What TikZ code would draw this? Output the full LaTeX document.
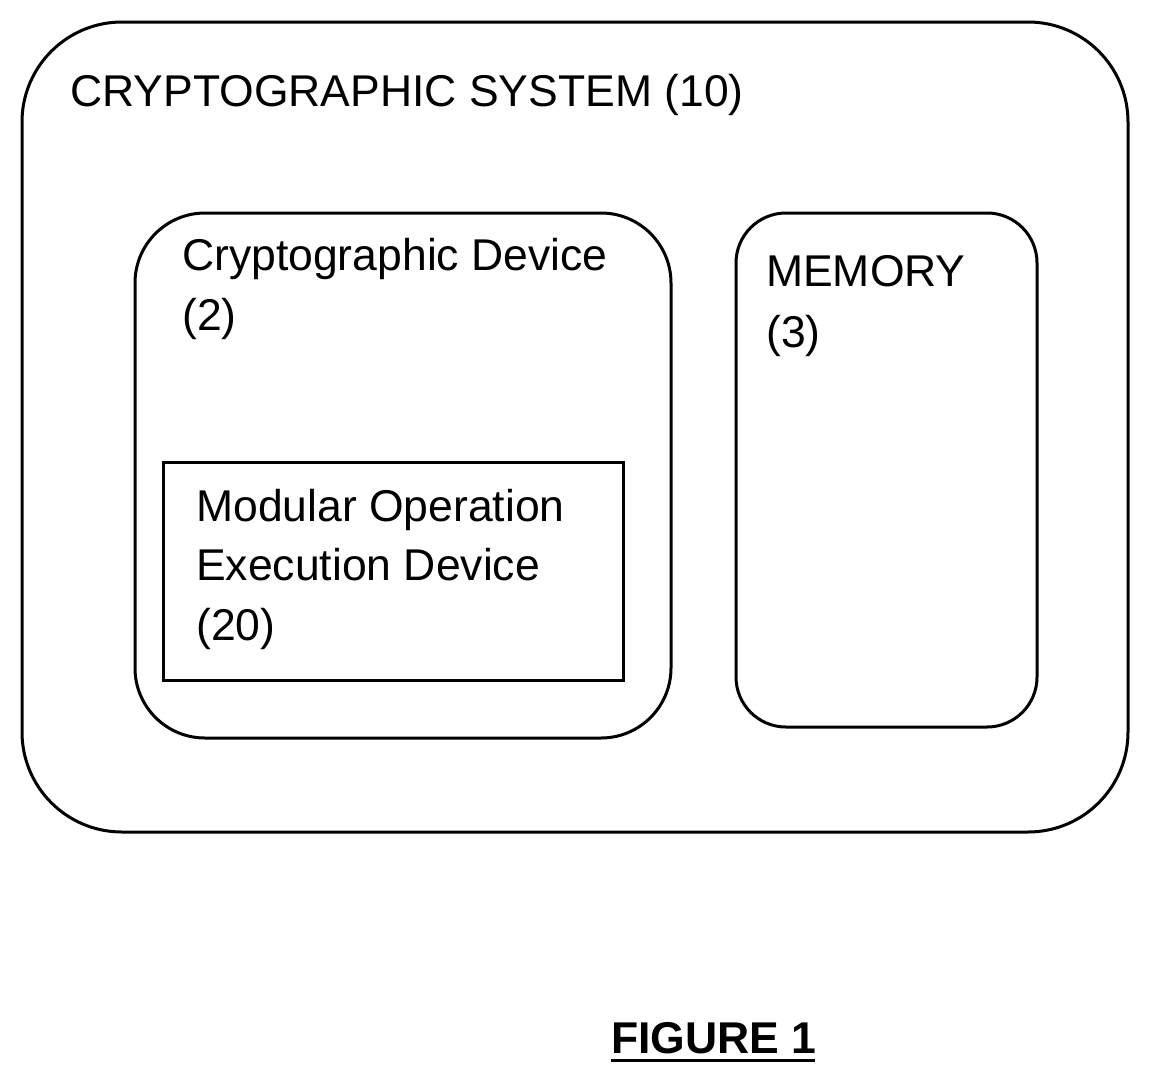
\documentclass[tikz,border=0pt]{standalone}
\usepackage{fontspec}
\setmainfont{Liberation Sans}
\begin{document}
\begin{tikzpicture}[x=1pt,y=-1pt,
  box/.style={draw=black,line width=3pt},
  lbl/.style={anchor=base west,inner sep=0pt,font=\fontsize{44.5}{52}\selectfont}]
\useasboundingbox[fill=white] (0,0) rectangle (1150,1084);
\draw[box,rounded corners=100pt] (22,22) rectangle (1128,832);
\draw[box,rounded corners=70pt] (135,213) rectangle (671,738);
\draw[box,rounded corners=50pt] (736,213) rectangle (1037,727);
\draw[box] (163,462) rectangle (623,680);
\node[lbl] (sys) at (70,106) {CRYPTOGRAPHIC SYSTEM (10)};
\node[lbl] (cd1) at (182,270) {Cryptographic Device};
\node[lbl] (cd2) at (182,330) {(2)};
\node[lbl] (m1) at (766,286) {MEMORY};
\node[lbl] (m2) at (766,347) {(3)};
\node[lbl] (mo1) at (196,521) {Modular Operation};
\node[lbl] (mo2) at (196,580) {Execution Device};
\node[lbl] (mo3) at (196,640) {(20)};
\node[lbl,font=\fontsize{44.5}{52}\selectfont\bfseries] (fig) at (611,1053) {FIGURE 1};
\draw[line width=3pt] (611,1060) -- (815,1060);
\end{tikzpicture}
\end{document}
